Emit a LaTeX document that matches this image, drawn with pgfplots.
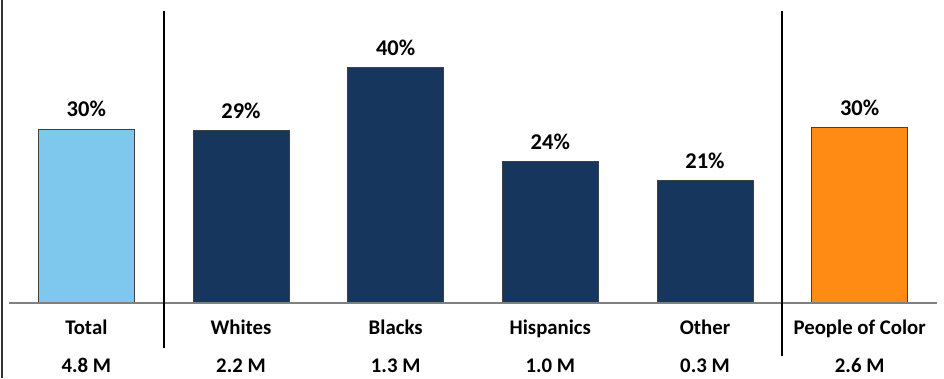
\documentclass[border=0pt]{standalone}
\usepackage{pgfplots}
\pgfplotsset{compat=1.18}
\usepackage{fontspec}
\setmainfont{Carlito}
\definecolor{lblue}{HTML}{7EC8EE}
\definecolor{navy}{HTML}{17365D}
\definecolor{orng}{HTML}{FF8B14}
\tikzset{cnt/.style={anchor=base, inner sep=0pt, yshift=-69pt, font=\fontsize{20.8}{24}\selectfont\bfseries}}
\begin{document}
\begin{tikzpicture}[x=1pt,y=1pt]
\useasboundingbox (0,0) rectangle (944,378);
\begin{axis}[
  at={(9pt,75pt)}, anchor=south west,
  scale only axis, width=928pt, height=295pt,
  xmin=-0.5, xmax=5.5, ymin=0, ymax=50,
  clip=false,
  axis line style={draw=none},
  tick style={draw=none},
  ytick=\empty,
  xtick={0,1,2,3,4,5},
  xticklabels={Total,Whites,Blacks,Hispanics,Other,People of Color},
  xticklabel style={anchor=base, yshift=-27pt, inner sep=0pt, font=\fontsize{20.8}{24}\selectfont\bfseries},
  ybar, bar width=96pt, bar shift=0pt,
  nodes near coords,
  point meta=explicit symbolic,
  every node near coord/.style={anchor=base, yshift=12pt, inner sep=0pt, font=\fontsize{22.5}{26}\selectfont\bfseries, text=black},
]
\addplot[fill=lblue, draw=black!75, line width=0.9pt] coordinates {(0,29.5) [30\%]};
\addplot[fill=navy, draw=black!75, line width=0.9pt] coordinates {(1,29.3) [29\%] (2,40) [40\%] (3,24) [24\%] (4,20.8) [21\%]};
\addplot[fill=orng, draw=black!75, line width=0.9pt] coordinates {(5,29.7) [30\%]};
\draw[gray, line width=1.3pt] (axis cs:-0.5,0) -- (axis cs:5.5,0);
\draw[black, line width=2pt] (axis cs:0.5,49.5) -- (axis cs:0.5,-7.63);
\draw[black, line width=2pt] (axis cs:4.5,49.5) -- (axis cs:4.5,-8.98);
\node[cnt] at (axis cs:0,0) {4.8 M};
\node[cnt] at (axis cs:1,0) {2.2 M};
\node[cnt] at (axis cs:2,0) {1.3 M};
\node[cnt] at (axis cs:3,0) {1.0 M};
\node[cnt] at (axis cs:4,0) {0.3 M};
\node[cnt] at (axis cs:5,0) {2.6 M};
\end{axis}
\draw[black!80, line width=2pt] (1.5,0) -- (1.5,378);
\end{tikzpicture}
\end{document}
